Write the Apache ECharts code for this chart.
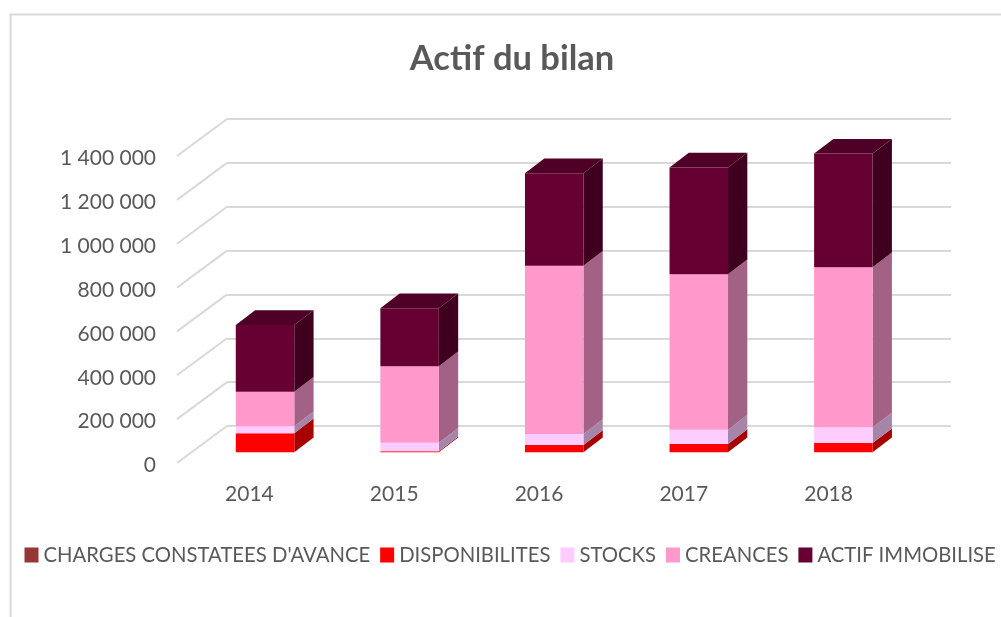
<!DOCTYPE html>
<html><head><meta charset="utf-8">
<style>html,body{margin:0;padding:0;background:#fff}#c{width:1001px;height:617px}</style>
<script src="https://cdn.jsdelivr.net/npm/echarts@6/dist/echarts.min.js"></script>
</head><body><div id="c"></div>
<script>
const categories = ['2014','2015','2016','2017','2018'];
const charges = [500,500,500,500,500];
const disponibilites = [86500,4500,32500,37500,41500];
const stocks = [32000,39000,51000,65000,72000];
const creances = [158000,349000,768000,710000,731000];
const actif = [304000,265000,422000,488000,519000];
const yTicks = [0,200000,400000,600000,800000,1000000,1200000,1400000];
const tickLabels = ['0','200 000','400 000','600 000','800 000','1 000 000','1 200 000','1 400 000'];
const seriesNames = ["CHARGES CONSTATEES D'AVANCE",'DISPONIBILITES','STOCKS','CREANCES','ACTIF IMMOBILISE'];
const seriesValues = [charges,disponibilites,stocks,creances,actif];

const frontColors = ['#953735','#ff0000','#ffccff','#ff99cc','#660033'];
const sideColors = ['#6a2725','#a80000','#a585a8','#a36285','#3f0020'];
const topColor = '#4f0027';
const FONT = 'Lato';
const TXT = '#595959';
const barW = 58.5, bdx = 19.3, bdy = 14.7, wdx = 50, wdy = 37;

const faces = [];
categories.forEach((c,i)=>{
  let base = 0;
  seriesValues.forEach((vals,s)=>{
    faces.push([i, base, base+vals[i], s]);
    base += vals[i];
  });
});

const chart = echarts.init(document.getElementById('c'),null,{renderer:'canvas'});
const yCommon = {type:'value',min:0,max:1400000,interval:200000};
chart.setOption({
  animation:false,
  backgroundColor:'#ffffff',
  title:{text:'Actif du bilan',left:507,top:36,textAlign:'center',
    textStyle:{fontFamily:FONT,fontSize:34.5,fontWeight:'bold',color:TXT}},
  legend:{left:19.5,top:540,width:1000,itemWidth:14,itemHeight:15,itemGap:10,icon:'rect',
    data:seriesNames,selectedMode:false,
    textStyle:{fontFamily:FONT,fontSize:20.3,color:TXT}},
  graphic:[
    {type:'polyline',shape:{points:[[10.5,617],[10.5,14.5],[1001,14.5]]},
     style:{stroke:'#d9d9d9',lineWidth:2,fill:null},silent:true}
  ],
  grid:[
    {left:227,width:724,top:119,height:307},      // back wall
    {left:177,width:724,top:158.5,height:307},    // front edge: labels
    {left:192.75,width:722.9,top:145.7,height:306.6} // bar plane
  ],
  xAxis:[
    {gridIndex:0,type:'value',min:0,max:1,show:false},
    {gridIndex:1,type:'category',data:categories,axisLine:{show:false},axisTick:{show:false},
     axisLabel:{margin:18.5,fontFamily:FONT,fontSize:21,color:TXT}},
    {gridIndex:2,type:'category',data:categories,show:false}
  ],
  yAxis:[
    Object.assign({gridIndex:0},yCommon,{axisLine:{show:false},axisTick:{show:false},axisLabel:{show:false},
      splitLine:{show:true,lineStyle:{color:'#d9d9d9',width:2}}}),
    Object.assign({gridIndex:1},yCommon,{axisLine:{show:false},axisTick:{show:false},splitLine:{show:false},
      axisLabel:{margin:21,fontFamily:FONT,fontSize:21,color:TXT,
        formatter:v=>tickLabels[yTicks.indexOf(v)]}}),
    Object.assign({gridIndex:2},yCommon,{show:false,splitLine:{show:false}})
  ],
  series:[
    {type:'custom',name:'slants',xAxisIndex:0,yAxisIndex:0,clip:false,silent:true,z:1,
     data:yTicks.map(v=>[0,v]),
     renderItem:(p,api)=>{
       const a=api.coord([api.value(0),api.value(1)]);
       return {type:'line',shape:{x1:a[0],y1:a[1],x2:a[0]-wdx,y2:a[1]+wdy},
         style:{stroke:'#d9d9d9',lineWidth:2}};
     }},
    ...seriesNames.map((n,s)=>({
      type:'bar',name:n,xAxisIndex:2,yAxisIndex:2,stack:'a',barWidth:barW,z:3,
      data:seriesValues[s],itemStyle:{color:frontColors[s]},silent:true})),
    {type:'custom',name:'faces',xAxisIndex:2,yAxisIndex:2,clip:false,silent:true,z:2,
     data:faces,
     renderItem:(p,api)=>{
       const i=api.value(0),b=api.value(1),t=api.value(2),s=api.value(3);
       const pb=api.coord([i,b]),pt=api.coord([i,t]);
       const xr=pb[0]+barW/2, xl=pb[0]-barW/2;
       const kids=[{type:'polygon',shape:{points:[[xr,pb[1]],[xr,pt[1]],[xr+bdx,pt[1]-bdy],[xr+bdx,pb[1]-bdy]]},
         style:{fill:sideColors[s]}}];
       if(s===seriesNames.length-1){
         kids.push({type:'polygon',shape:{points:[[xl,pt[1]],[xr,pt[1]],[xr+bdx,pt[1]-bdy],[xl+bdx,pt[1]-bdy]]},
           style:{fill:topColor}});
       }
       return {type:'group',children:kids};
     }}
  ]
});
</script></body></html>
